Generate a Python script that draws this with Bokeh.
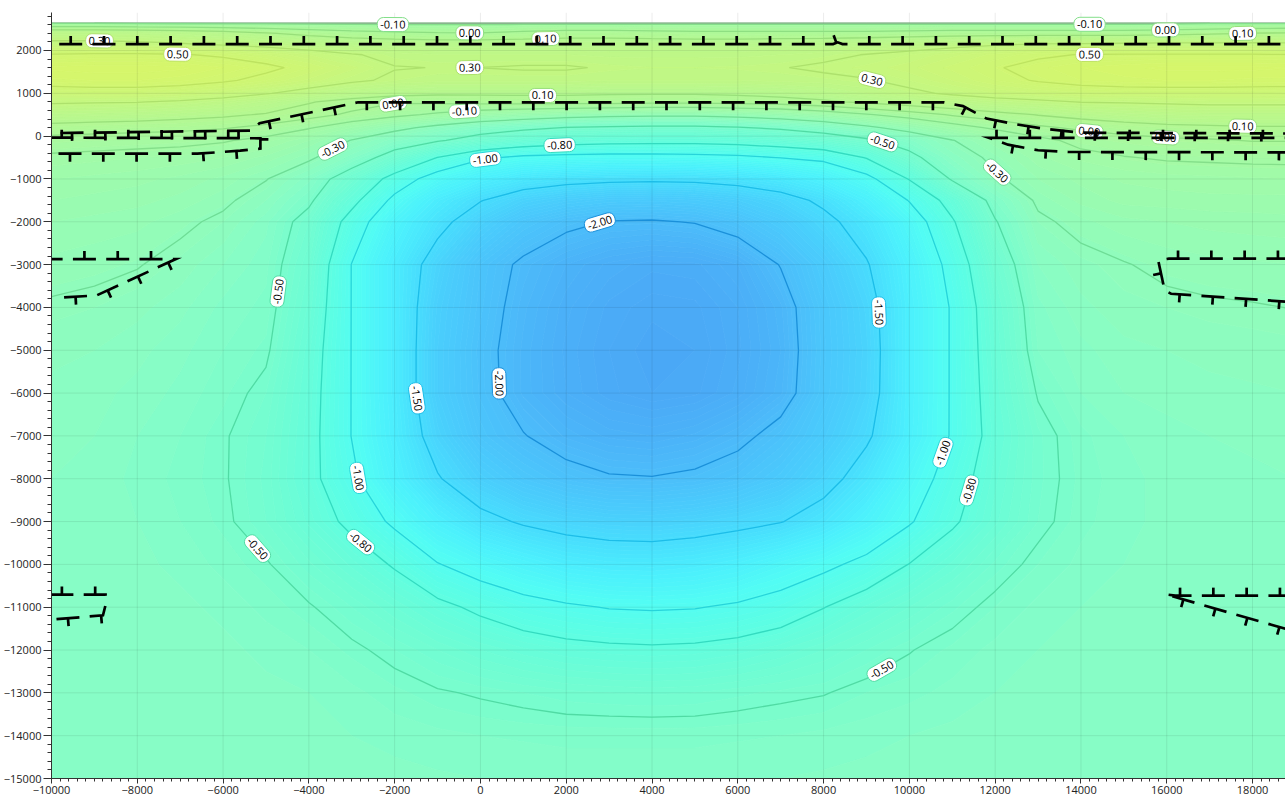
import math
import numpy as np
import contourpy
from bokeh.plotting import figure
from bokeh.models import FixedTicker, ColumnDataSource
from bokeh.core.properties import value
from bokeh.embed import file_html
from bokeh.resources import INLINE

# ---------------------------------------------------------------- frame
X_RANGE = (-10000, 18815)
Y_RANGE = (-15000, 2887)
FRAME_W, FRAME_H = 1236, 766
KX = FRAME_W / (X_RANGE[1] - X_RANGE[0])
KY = FRAME_H / (Y_RANGE[1] - Y_RANGE[0])

# ---------------------------------------------------------------- gridded field
grid_x = list(range(-10000, 19001, 1000))
grid_y = [2640, 2400, 2150, 1900, 1600, 1300, 1000, 800, 500, 200, -100, -500,
          -1000, -1500, -2000, -3000, -4000, -5000, -6000, -7000, -8000, -9000,
          -10000, -11000, -12000, -13000, -14000, -15000]

# one row per grid_y (top to bottom), one column per grid_x (west to east)
grid_z = [
    [-0.11, -0.11, -0.12, -0.12, -0.12, -0.12, -0.12, -0.12, -0.12, -0.12, -0.12, -0.12, -0.12, -0.12, -0.12, -0.12, -0.12, -0.12, -0.12, -0.12, -0.12, -0.12, -0.12, -0.12, -0.12, -0.12, -0.12, -0.11, -0.11, -0.11],
    [0.21, 0.21, 0.20, 0.18, 0.15, 0.11, 0.07, 0.04, 0.02, 0.01, 0.005, 0.03, 0.05, 0.05, 0.04, 0.03, 0.03, 0.03, 0.03, 0.03, 0.04, 0.05, 0.05, 0.05, 0.05, 0.05, 0.06, 0.08, 0.105, 0.11],
    [0.34, 0.34, 0.33, 0.31, 0.28, 0.25, 0.21, 0.18, 0.17, 0.16, 0.16, 0.16, 0.16, 0.16, 0.16, 0.16, 0.16, 0.17, 0.18, 0.20, 0.22, 0.25, 0.28, 0.305, 0.31, 0.32, 0.33, 0.33, 0.33, 0.32],
    [0.51, 0.52, 0.52, 0.51, 0.48, 0.43, 0.37, 0.31, 0.27, 0.25, 0.25, 0.25, 0.25, 0.24, 0.24, 0.24, 0.24, 0.25, 0.27, 0.305, 0.34, 0.39, 0.44, 0.48, 0.505, 0.51, 0.51, 0.51, 0.51, 0.505],
    [0.62, 0.63, 0.63, 0.62, 0.58, 0.53, 0.46, 0.38, 0.305, 0.298, 0.301, 0.31, 0.31, 0.29, 0.28, 0.28, 0.285, 0.295, 0.32, 0.35, 0.39, 0.44, 0.49, 0.54, 0.58, 0.60, 0.62, 0.62, 0.62, 0.61],
    [0.57, 0.58, 0.58, 0.56, 0.52, 0.46, 0.39, 0.32, 0.28, 0.26, 0.26, 0.26, 0.26, 0.25, 0.25, 0.25, 0.25, 0.26, 0.27, 0.29, 0.34, 0.40, 0.46, 0.51, 0.55, 0.57, 0.58, 0.58, 0.57, 0.57],
    [0.42, 0.43, 0.43, 0.41, 0.37, 0.31, 0.24, 0.18, 0.14, 0.12, 0.12, 0.12, 0.12, 0.11, 0.11, 0.11, 0.12, 0.14, 0.17, 0.22, 0.27, 0.32, 0.37, 0.40, 0.42, 0.43, 0.43, 0.43, 0.43, 0.42],
    [0.32, 0.31, 0.305, 0.28, 0.24, 0.18, 0.11, 0.05, 0.01, 0.02, 0.03, 0.04, 0.04, 0.04, 0.03, 0.03, 0.04, 0.05, 0.08, 0.12, 0.16, 0.20, 0.24, 0.27, 0.305, 0.31, 0.32, 0.33, 0.33, 0.33],
    [0.18, 0.17, 0.16, 0.14, 0.12, 0.09, 0.04, -0.02, -0.07, -0.12, -0.17, -0.21, -0.24, -0.26, -0.27, -0.27, -0.25, -0.22, -0.17, -0.11, -0.05, 0.01, 0.06, 0.105, 0.14, 0.17, 0.19, 0.20, 0.20, 0.20],
    [0.06, 0.05, 0.04, 0.03, 0.01, -0.03, -0.09, -0.17, -0.26, -0.34, -0.41, -0.46, -0.505, -0.52, -0.53, -0.53, -0.51, -0.47, -0.41, -0.33, -0.24, -0.15, -0.08, -0.02, 0.02, 0.05, 0.07, 0.08, 0.09, 0.09],
    [-0.04, -0.05, -0.06, -0.07, -0.09, -0.13, -0.20, -0.305, -0.40, -0.48, -0.58, -0.66, -0.71, -0.73, -0.74, -0.74, -0.72, -0.68, -0.62, -0.53, -0.42, -0.305, -0.21, -0.13, -0.07, -0.04, -0.02, -0.01, 0.005, 0.005],
    [-0.12, -0.13, -0.14, -0.15, -0.17, -0.21, -0.28, -0.40, -0.58, -0.805, -0.97, -1.04, -1.06, -1.07, -1.07, -1.06, -1.04, -0.995, -0.95, -0.79, -0.55, -0.37, -0.27, -0.18, -0.13, -0.105, -0.09, -0.085, -0.08, -0.08],
    [-0.17, -0.18, -0.19, -0.21, -0.24, -0.295, -0.40, -0.60, -0.88, -1.10, -1.25, -1.36, -1.42, -1.45, -1.46, -1.45, -1.41, -1.34, -1.22, -1.06, -0.79, -0.48, -0.32, -0.23, -0.19, -0.165, -0.155, -0.15, -0.145, -0.14],
    [-0.20, -0.21, -0.22, -0.24, -0.28, -0.35, -0.47, -0.74, -1.05, -1.30, -1.49, -1.64, -1.72, -1.77, -1.78, -1.76, -1.70, -1.60, -1.45, -1.24, -0.99, -0.72, -0.44, -0.28, -0.22, -0.19, -0.185, -0.18, -0.18, -0.18],
    [-0.23, -0.24, -0.25, -0.28, -0.32, -0.40, -0.56, -0.88, -1.18, -1.42, -1.65, -1.84, -1.95, -2.01, -2.02, -1.99, -1.90, -1.75, -1.57, -1.38, -1.12, -0.82, -0.51, -0.32, -0.27, -0.24, -0.23, -0.22, -0.215, -0.21],
    [-0.27, -0.28, -0.295, -0.33, -0.38, -0.43, -0.62, -1.005, -1.30, -1.62, -1.88, -2.04, -2.15, -2.22, -2.26, -2.25, -2.18, -1.99, -1.75, -1.52, -1.22, -0.93, -0.60, -0.38, -0.33, -0.305, -0.28, -0.27, -0.265, -0.26],
    [-0.31, -0.32, -0.34, -0.37, -0.42, -0.45, -0.66, -1.005, -1.30, -1.68, -1.90, -2.08, -2.20, -2.28, -2.32, -2.31, -2.24, -2.10, -1.82, -1.60, -1.25, -0.98, -0.66, -0.42, -0.36, -0.33, -0.32, -0.31, -0.305, -0.298],
    [-0.34, -0.35, -0.37, -0.40, -0.44, -0.48, -0.70, -1.005, -1.30, -1.70, -1.93, -2.10, -2.22, -2.30, -2.35, -2.33, -2.25, -2.12, -1.83, -1.62, -1.25, -0.98, -0.68, -0.44, -0.39, -0.36, -0.35, -0.34, -0.335, -0.33],
    [-0.36, -0.37, -0.39, -0.42, -0.46, -0.53, -0.72, -1.005, -1.30, -1.70, -1.92, -2.10, -2.21, -2.29, -2.33, -2.31, -2.23, -2.10, -1.82, -1.61, -1.25, -0.98, -0.70, -0.49, -0.41, -0.38, -0.37, -0.36, -0.355, -0.35],
    [-0.37, -0.38, -0.41, -0.44, -0.49, -0.56, -0.73, -1.005, -1.28, -1.62, -1.86, -1.99, -2.10, -2.16, -2.18, -2.14, -2.06, -1.92, -1.74, -1.54, -1.24, -0.98, -0.72, -0.54, -0.45, -0.41, -0.39, -0.38, -0.375, -0.37],
    [-0.38, -0.39, -0.42, -0.45, -0.49, -0.57, -0.74, -0.96, -1.22, -1.48, -1.68, -1.82, -1.92, -1.98, -1.99, -1.96, -1.89, -1.77, -1.60, -1.38, -1.13, -0.90, -0.69, -0.54, -0.46, -0.42, -0.40, -0.39, -0.385, -0.38],
    [-0.38, -0.39, -0.41, -0.44, -0.48, -0.56, -0.69, -0.85, -1.04, -1.24, -1.42, -1.53, -1.60, -1.64, -1.65, -1.62, -1.57, -1.51, -1.38, -1.20, -1.02, -0.83, -0.66, -0.53, -0.45, -0.42, -0.40, -0.39, -0.385, -0.38],
    [-0.39, -0.39, -0.40, -0.42, -0.45, -0.49, -0.58, -0.69, -0.82, -0.99, -1.10, -1.19, -1.28, -1.32, -1.33, -1.30, -1.24, -1.14, -1.05, -0.94, -0.795, -0.67, -0.55, -0.47, -0.43, -0.41, -0.40, -0.39, -0.39, -0.39],
    [-0.39, -0.39, -0.39, -0.40, -0.42, -0.45, -0.49, -0.56, -0.65, -0.75, -0.84, -0.92, -0.97, -1.01, -1.02, -1.01, -0.97, -0.91, -0.805, -0.70, -0.62, -0.54, -0.47, -0.43, -0.41, -0.40, -0.395, -0.39, -0.39, -0.39],
    [-0.39, -0.39, -0.39, -0.39, -0.40, -0.42, -0.44, -0.48, -0.53, -0.59, -0.65, -0.70, -0.74, -0.76, -0.77, -0.76, -0.73, -0.68, -0.62, -0.56, -0.505, -0.46, -0.43, -0.41, -0.40, -0.395, -0.39, -0.39, -0.39, -0.39],
    [-0.39, -0.39, -0.39, -0.39, -0.39, -0.40, -0.41, -0.43, -0.46, -0.49, -0.51, -0.53, -0.55, -0.56, -0.565, -0.56, -0.54, -0.52, -0.505, -0.47, -0.45, -0.43, -0.41, -0.40, -0.395, -0.39, -0.39, -0.39, -0.39, -0.39],
    [-0.39, -0.39, -0.39, -0.39, -0.39, -0.395, -0.40, -0.41, -0.42, -0.43, -0.44, -0.445, -0.45, -0.45, -0.45, -0.45, -0.445, -0.44, -0.43, -0.42, -0.41, -0.40, -0.395, -0.39, -0.39, -0.39, -0.39, -0.39, -0.39, -0.39],
    [-0.39, -0.39, -0.39, -0.39, -0.39, -0.39, -0.395, -0.40, -0.40, -0.405, -0.41, -0.41, -0.415, -0.415, -0.415, -0.415, -0.41, -0.41, -0.405, -0.40, -0.40, -0.395, -0.39, -0.39, -0.39, -0.39, -0.39, -0.39, -0.39, -0.39],
]

contour_levels = [-2.0, -1.5, -1.0, -0.8, -0.5, -0.3, -0.1, 0.0, 0.1, 0.3, 0.5]
contour_line_colors = ["#1a90da", "#1cbde8", "#27d4da", "#33dbc0", "#50dba4", "#6edd96",
                       "#84df8a", "#8edf82", "#98df7a", "#ade16c", "#bde360"]

# contour label anchors
label_level = [-0.1, 0.0, 0.1, 0.3, 0.5, 0.3, -0.1, 0.0, 0.1, 0.5, 0.3, 0.0, 0.1, -0.1,
               -0.3, -1.0, -0.8, -0.5, -0.3, 0.0, 0.1, 0.0, -2.0, -2.0, -1.5, -1.5,
               -0.5, -1.0, -0.8, -0.5, -1.0, -0.8, -0.5]
label_x = [-2040, -250, 1520, -8880, -7060, -250, 14200, 15970, 17770, 14200, 9140, -2040, 1450, -373,
           -3450, 117, 1845, 9370, 12120, 14200, 17770, 15970, 2777, 351, -1514, 9300,
           -4544, -2796, -2820, -5195, 10770, 11400, 9300]
label_y = [2630, 2420, 2280, 2230, 1907, 1626, 2630, 2510, 2400, 1883, 1370, 762, 926, 600,
           -290, -569, -195, -150, -760, 180, 250, -50, -1993, -5777, -6127, -4118,
           -3651, -7972, -9513, -9630, -7388, -8275, -12362]

x_ticks = list(range(-10000, 18001, 2000))
x_minor = list(range(-10000, 18801, 200))
y_ticks = list(range(-15000, 2001, 1000))
y_minor = list(range(-15000, 2801, 200))

# fault-bounded bodies: vertex lists and the side the ticks point to
h_top_x = [-10000, 8220, 8330, 8440, 19000]
h_top_y = [2150, 2150, 2190, 2150, 2150]
h_base_x = [-10000, -5350, -5150, -2850, 10800, 11250, 11800, 12400, 13100, 14000, 19000]
h_base_y = [70, 130, 300, 790, 790, 700, 410, 290, 180, 80, 60]
h_thin_w_x = [-10000, -5130, -5130, -5600, -6600, -10000]
h_thin_w_y = [-35, -50, -290, -340, -410, -410]
h_thin_e_x = [19000, 13700, 13000, 12300, 11850, 19000]
h_thin_e_y = [-380, -370, -330, -200, -40, -40]
h_wedge_w_x = [-9800, -8950, -7100, -10000]
h_wedge_w_y = [-3770, -3720, -2870, -2870]
h_wedge_e_x = [19000, 16050, 15800, 15950, 16100, 19000]
h_wedge_e_y = [-2860, -2860, -2900, -3600, -3680, -3880]
h_deep_w_x = [-10000, -8800, -8740, -8740, -10000]
h_deep_w_y = [-11290, -11190, -10950, -10705, -10705]
h_deep_e_x = [19000, 16200, 15970, 19000]
h_deep_e_y = [-10730, -10730, -10700, -11570]

horizons = [
    (h_top_x, h_top_y, +1, 7.7),
    (h_base_x, h_base_y, -1, 9.0),
    (h_thin_w_x, h_thin_w_y, +1, 32.0),
    (h_thin_e_x, h_thin_e_y, +1, 5.0),
    (h_wedge_w_x, h_wedge_w_y, -1, 4.0),
    (h_wedge_e_x, h_wedge_e_y, -1, 6.0),
    (h_deep_w_x, h_deep_w_y, -1, 5.0),
    (h_deep_e_x, h_deep_e_y, -1, 4.0),
]

# colour ramp (value, colour)
RAMP = [(-2.45, "#4aa2f4"), (-2.2, "#4bb0f8"), (-2.0, "#4cbdfa"), (-1.75, "#4acbfc"),
        (-1.5, "#48dcfd"), (-1.25, "#4cf0fd"), (-1.05, "#52fcf4"), (-0.85, "#5cfee4"),
        (-0.65, "#6cfdd6"), (-0.5, "#79fdcd"), (-0.4, "#86fdc7"), (-0.3, "#91fcbb"),
        (-0.15, "#9ffbaa"), (0.0, "#acf99b"), (0.15, "#b8f88e"), (0.3, "#c3f782"),
        (0.45, "#cdf676"), (0.6, "#d5f66c"), (0.7, "#daf666")]


def hex_rgb(h):
    h = h.lstrip("#")
    return [int(h[i:i + 2], 16) for i in (0, 2, 4)]


ramp_v = np.array([r[0] for r in RAMP])
ramp_c = np.array([hex_rgb(r[1]) for r in RAMP], dtype=float)


def ramp_color(v):
    rgb = [int(round(np.interp(v, ramp_v, ramp_c[:, k]))) for k in range(3)]
    return "#%02x%02x%02x" % tuple(rgb)


def to_px(x, y):
    return (np.asarray(x, float) - X_RANGE[0]) * KX, (np.asarray(y, float) - Y_RANGE[0]) * KY


def from_px(X, Y):
    return np.asarray(X) / KX + X_RANGE[0], np.asarray(Y) / KY + Y_RANGE[0]


# ---------------------------------------------------------------- contours
gx = np.array(grid_x, float)
gy = np.array(grid_y[::-1], float)
gz = np.array(grid_z[::-1], float)
gen = contourpy.contour_generator(gx, gy, gz, fill_type="OuterOffset", line_type="Separate")

edges = np.arange(-2.42, 0.70, 0.03)
band_xs, band_ys, band_col = [], [], []
for lo, hi in zip(edges[:-1], edges[1:]):
    pts_list, offs_list = gen.filled(lo, hi)
    px_, py_ = [], []
    for pts, offs in zip(pts_list, offs_list):
        px_.append([pts[offs[i]:offs[i + 1], 0].tolist() for i in range(len(offs) - 1)])
        py_.append([pts[offs[i]:offs[i + 1], 1].tolist() for i in range(len(offs) - 1)])
    if px_:
        band_xs.append(px_)
        band_ys.append(py_)
        band_col.append(ramp_color(0.5 * (lo + hi)))

line_xs, line_ys, line_col = [], [], []
for lev, col in zip(contour_levels, contour_line_colors):
    for ln in gen.lines(lev):
        line_xs.append(ln[:, 0].tolist())
        line_ys.append(ln[:, 1].tolist())
        line_col.append(col)

# labels snapped onto their contour, turned along it
lab_x, lab_y, lab_a, lab_t, lab_b = [], [], [], [], []
for lev, x, y in zip(label_level, label_x, label_y):
    qx, qy = to_px(x, y)
    best = None
    for ln in gen.lines(lev):
        X, Y = to_px(ln[:, 0], ln[:, 1])
        A = np.column_stack([X[:-1], Y[:-1]])
        AB = np.column_stack([np.diff(X), np.diff(Y)])
        L2 = (AB ** 2).sum(1)
        L2[L2 == 0] = 1e-9
        t = np.clip(((np.array([qx, qy]) - A) * AB).sum(1) / L2, 0, 1)
        C = A + AB * t[:, None]
        d = np.hypot(C[:, 0] - qx, C[:, 1] - qy)
        i = int(d.argmin())
        if best is None or d[i] < best[0]:
            best = (d[i], C[i], AB[i])
    if best is not None and best[0] < 30:
        cx, cy = from_px(best[1][0], best[1][1])
        ang = math.atan2(best[2][1], best[2][0])
        if ang > math.pi / 2:
            ang -= math.pi
        if ang < -math.pi / 2:
            ang += math.pi
    else:
        cx, cy, ang = x, y, 0.0
    lab_x.append(float(cx))
    lab_y.append(float(cy))
    lab_a.append(ang)
    lab_t.append("%.2f" % lev)
    lab_b.append(contour_line_colors[contour_levels.index(lev)])


# ---------------------------------------------------------------- tick-barbed dashed lines
def barbed(xs, ys, side, offset, period=33.3, dash=23.0, stem=8.0):
    X, Y = to_px(xs, ys)
    P = np.column_stack([X, Y])
    seg = np.diff(P, axis=0)
    seglen = np.hypot(seg[:, 0], seg[:, 1])
    cum = np.concatenate([[0.0], np.cumsum(seglen)])
    total = cum[-1]

    def at(s):
        s = min(max(s, 0.0), total)
        i = int(min(np.searchsorted(cum, s, side="right") - 1, len(seg) - 1))
        t = (s - cum[i]) / seglen[i] if seglen[i] > 0 else 0.0
        return P[i] + t * seg[i], seg[i] / max(seglen[i], 1e-9)

    dashes, ticks = [], []
    s = offset - math.ceil(offset / period) * period
    while s < total:
        a, b = max(s, 0.0), min(s + dash, total)
        if b > a:
            pts = [at(a)[0]] + [P[j] for j in range(len(P)) if a < cum[j] < b] + [at(b)[0]]
            dashes.append(np.array(pts))
            mid = s + dash / 2
            if 0 <= mid <= total:
                c, d = at(mid)
                n = side * np.array([-d[1], d[0]])
                ticks.append(np.array([c, c + n * stem]))
        s += period
    out_x, out_y = [], []
    for arr in dashes + ticks:
        dx, dy = from_px(arr[:, 0], arr[:, 1])
        out_x.append(dx.tolist())
        out_y.append(dy.tolist())
    return out_x, out_y


bar_xs, bar_ys = [], []
for hx, hy, side, off in horizons:
    a, b = barbed(hx, hy, side, off)
    bar_xs += a
    bar_ys += b

# ---------------------------------------------------------------- figure
p = figure(frame_width=FRAME_W, frame_height=FRAME_H, x_range=X_RANGE, y_range=Y_RANGE,
           output_backend="svg", toolbar_location=None,
           min_border_left=49, min_border_right=0, min_border_top=12, min_border_bottom=4,
           background_fill_color="white", border_fill_color="white")
p.outline_line_color = None
p.xgrid.visible = False
p.ygrid.visible = False

p.multi_polygons(xs="xs", ys="ys", fill_color="c", line_color="c", line_width=0.8,
                 source=ColumnDataSource(dict(xs=band_xs, ys=band_ys, c=band_col)))

# grid lines over the colour field
p.segment(x0=x_ticks, y0=Y_RANGE[0], x1=x_ticks, y1=Y_RANGE[1],
          line_color="#000000", line_alpha=0.08, line_width=1)
p.segment(x0=X_RANGE[0], y0=y_ticks, x1=X_RANGE[1], y1=y_ticks,
          line_color="#000000", line_alpha=0.08, line_width=1)

# upper edge of the gridded surface
p.line(x=[grid_x[0], grid_x[-1]], y=[grid_y[0], grid_y[0]], line_color="#7f9c84", line_width=1.3)

p.multi_line(xs="xs", ys="ys", line_color="c", line_width=1.3,
             source=ColumnDataSource(dict(xs=line_xs, ys=line_ys, c=line_col)))

p.text(x="x", y="y", text="t", angle="a", source=ColumnDataSource(dict(x=lab_x, y=lab_y, t=lab_t, a=lab_a, b=lab_b)),
       text_font=value("Open Sans"), text_font_size="11px", text_color="#000000",
       text_align="center", text_baseline="middle",
       background_fill_color="white", border_line_color="b", border_line_width=1,
       padding=3, border_radius=6)

p.multi_line(xs=bar_xs, ys=bar_ys, line_color="black", line_width=2.7, line_cap="butt", line_join="miter")

# axes
p.xaxis.ticker = FixedTicker(ticks=x_ticks, minor_ticks=x_minor)
p.yaxis.ticker = FixedTicker(ticks=y_ticks, minor_ticks=y_minor)
for ax in (p.xaxis[0], p.yaxis[0]):
    ax.axis_line_color = "#333333"
    ax.major_tick_line_color = "#333333"
    ax.minor_tick_line_color = "#333333"
    ax.major_label_text_font = "Open Sans"
    ax.major_label_text_font_size = "11px"
    ax.major_label_text_color = "#222222"
    ax.major_tick_in = 0
    ax.minor_tick_in = 0
p.yaxis.major_tick_out = 8
p.yaxis.minor_tick_out = 4
p.yaxis.major_label_standoff = 2
p.xaxis.major_tick_out = 5
p.xaxis.minor_tick_out = 3
p.xaxis.major_label_standoff = 2

open("out.html", "w").write(file_html(p, INLINE))
